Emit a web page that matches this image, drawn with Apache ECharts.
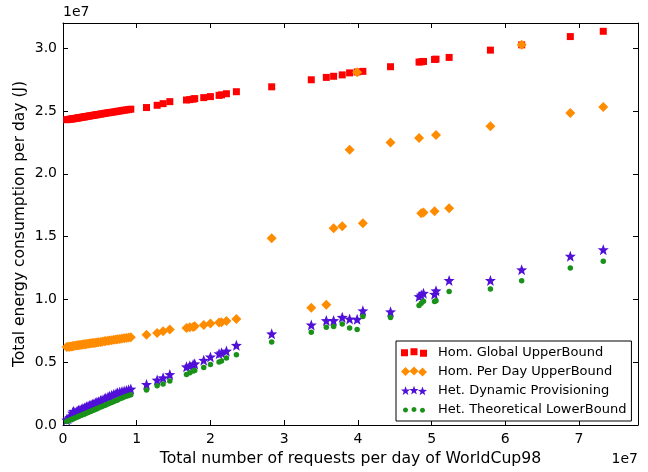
<!DOCTYPE html>
<html>
<head>
<meta charset="utf-8">
<script src="https://cdn.jsdelivr.net/npm/echarts@6/dist/echarts.min.js"></script>
<style>
html,body{margin:0;padding:0;background:#fff;}
#chart{width:648px;height:472px;}
</style>
</head>
<body>
<div id="chart"></div>
<script>
// All values in units of 1e7 (as shown by the axis offset labels "1e7")
var requests = [
  0.05,0.07,0.09,0.11,0.13,0.14,0.16,0.18,0.20,0.21,0.23,0.25,0.27,0.29,0.30,0.32,0.34,0.36,0.38,0.40,
  0.42,0.44,0.46,0.48,0.51,0.53,0.56,0.58,0.61,0.63,0.66,0.69,0.72,0.74,0.77,0.80,0.83,0.86,0.89,0.92,
  1.133,1.277,1.358,1.449,1.675,1.72,1.765,1.787,1.909,2.0,2.117,2.15,2.217,2.352,
  2.831,3.368,3.572,3.671,3.788,3.888,3.99,4.068,4.443,4.83,4.86,4.89,5.04,5.06,5.238,5.798,6.222,6.882,7.329
];
var homGlobalUpper = [
  2.430,2.432,2.433,2.436,2.437,2.438,2.440,2.442,2.444,2.445,2.447,2.449,2.451,2.453,2.454,2.456,2.458,2.460,2.462,2.464,
  2.466,2.468,2.470,2.472,2.475,2.477,2.480,2.482,2.485,2.487,2.489,2.492,2.495,2.497,2.500,2.503,2.506,2.508,2.511,2.514,
  2.527,2.545,2.558,2.574,2.587,2.590,2.594,2.598,2.606,2.614,2.624,2.628,2.637,2.653,
  2.692,2.748,2.767,2.776,2.787,2.803,2.810,2.815,2.852,2.889,2.891,2.894,2.910,2.912,2.926,2.984,3.026,3.092,3.134
];
var homPerDayUpper = [
  0.620,0.622,0.623,0.625,0.627,0.628,0.630,0.632,0.634,0.635,0.636,0.638,0.640,0.642,0.643,0.644,0.646,0.648,0.650,0.652,
  0.653,0.655,0.657,0.659,0.661,0.663,0.666,0.668,0.670,0.672,0.675,0.678,0.680,0.682,0.685,0.688,0.690,0.693,0.696,0.699,
  0.718,0.733,0.747,0.760,0.773,0.778,0.781,0.786,0.797,0.808,0.815,0.818,0.828,0.844,
  1.486,0.934,0.957,1.567,1.583,2.192,2.808,1.606,2.248,2.285,1.685,1.691,1.701,2.308,1.725,2.379,3.026,2.484,2.532
];
var hetDynamic = [
  0.040,0.050,0.062,0.072,0.095,0.110,0.100,0.105,0.110,0.118,0.120,0.126,0.131,0.135,0.138,0.145,0.150,0.156,0.160,0.166,
  0.170,0.176,0.182,0.186,0.196,0.200,0.208,0.214,0.222,0.228,0.236,0.244,0.250,0.256,0.262,0.266,0.270,0.274,0.280,0.286,
  0.323,0.358,0.376,0.402,0.463,0.471,0.481,0.487,0.516,0.542,0.568,0.575,0.589,0.634,
  0.726,0.797,0.831,0.831,0.857,0.844,0.841,0.910,0.902,1.023,1.035,1.049,1.041,1.068,1.151,1.151,1.236,1.344,1.396
];
var hetTheoreticalLower = [
  0.028,0.033,0.038,0.043,0.048,0.050,0.055,0.060,0.065,0.068,0.073,0.078,0.083,0.088,0.090,0.095,0.100,0.105,0.110,0.115,
  0.120,0.125,0.130,0.135,0.143,0.148,0.155,0.160,0.168,0.173,0.180,0.188,0.195,0.200,0.208,0.215,0.223,0.228,0.234,0.240,
  0.279,0.313,0.326,0.350,0.402,0.416,0.429,0.434,0.457,0.481,0.502,0.510,0.534,0.560,
  0.660,0.739,0.778,0.784,0.804,0.773,0.760,0.863,0.855,0.952,0.970,0.986,0.983,0.990,1.062,1.083,1.149,1.249,1.304
];
var seriesNames = ['Hom. Global UpperBound','Hom. Per Day UpperBound','Het. Dynamic Provisioning','Het. Theoretical LowerBound'];
var xTicks = [0,1,2,3,4,5,6,7];
var yTicks = [0.0,0.5,1.0,1.5,2.0,2.5,3.0];

function pairs(ys){ return requests.map(function(x,i){ return [x, ys[i]]; }); }

function starPts(cx, cy, R, r){
  var s = '';
  for (var k=0;k<10;k++){
    var a = (-90 + k*36) * Math.PI/180;
    var rad = (k%2===0) ? R : r;
    s += (k===0?'M':'L') + (cx + rad*Math.cos(a)).toFixed(3) + ',' + (cy + rad*Math.sin(a)).toFixed(3) + ' ';
  }
  return s + 'Z ';
}
function circlePts(cx, cy, r){
  var s = '';
  for (var k=0;k<16;k++){
    var a = k*Math.PI/8;
    s += (k===0?'M':'L') + (cx + r*Math.cos(a)).toFixed(3) + ',' + (cy + r*Math.sin(a)).toFixed(3) + ' ';
  }
  return s + 'Z ';
}
function diamondPts(cx, cy, w, h){
  return 'M'+cx+','+(cy-h/2)+' L'+(cx+w/2)+','+cy+' L'+cx+','+(cy+h/2)+' L'+(cx-w/2)+','+cy+' Z ';
}
var starSymbol = 'path://' + starPts(0,0,10,4.2);
var legSquares = 'path://M0,2.5h7v7h-7z M9.5,1.5h7v7h-7z M19,3h7v7h-7z';
var legDiamonds = 'path://' + diamondPts(4.5,5.5,9,9) + diamondPts(13,5,9,9) + diamondPts(21.5,5.8,9,9);
var legStars = 'path://' + starPts(4.5,5.5,4.8,2) + starPts(13,5,4.8,2) + starPts(21.5,5.8,4.8,2);
var legCircles = 'path://' + circlePts(4.5,5.5,2.5) + circlePts(13,5,2.5) + circlePts(21.5,5.8,2.5) + 'M0,0 L0.01,0 M26,10 L26.01,10';

var font = 'DejaVu Sans';
var chart = echarts.init(document.getElementById('chart'), null, {renderer:'canvas'});

function baseAxisLine(){ return {show:true, onZero:false, lineStyle:{color:'#000', width:1}}; }

var option = {
  animation:false,
  backgroundColor:'#fff',
  grid:{left:63, right:10, top:23, bottom:44, containLabel:false},
  xAxis:[{
    type:'value', min:0, max:7.8, interval:1, position:'bottom',
    name:'Total number of requests per day of WorldCup98', nameLocation:'middle', nameGap:26,
    nameMoveOverlap:false,
    nameTextStyle:{fontFamily:font, fontSize:15.7, color:'#000'},
    axisLine:baseAxisLine(),
    axisTick:{show:true, inside:true, length:5, lineStyle:{color:'#000'}},
    axisLabel:{show:true, margin:7, fontFamily:font, fontSize:14, color:'#000', showMaxLabel:false,
      formatter:function(v){ return xTicks.indexOf(Math.round(v))>=0 && Math.abs(v-Math.round(v))<1e-9 ? String(Math.round(v)) : ''; }},
    splitLine:{show:false}
  },{
    type:'value', min:0, max:7.8, interval:1, position:'top',
    axisLine:baseAxisLine(),
    axisTick:{show:true, inside:true, length:5, lineStyle:{color:'#000'}},
    axisLabel:{show:false}, splitLine:{show:false}
  }],
  yAxis:[{
    type:'value', min:0, max:3.2, interval:0.5, position:'left',
    name:'Total energy consumption per day (J)', nameLocation:'middle', nameGap:35,
    nameMoveOverlap:false,
    nameTextStyle:{fontFamily:font, fontSize:15.5, color:'#000'},
    axisLine:baseAxisLine(),
    axisTick:{show:true, inside:true, length:5, lineStyle:{color:'#000'}},
    axisLabel:{show:true, margin:6, fontFamily:font, fontSize:14, color:'#000', showMaxLabel:false,
      formatter:function(v){ var t=Math.round(v*10)/10; return yTicks.indexOf(t)>=0 ? t.toFixed(1) : ''; }},
    splitLine:{show:false}
  },{
    type:'value', min:0, max:3.2, interval:0.5, position:'right',
    axisLine:baseAxisLine(),
    axisTick:{show:true, inside:true, length:5, lineStyle:{color:'#000'}},
    axisLabel:{show:false}, splitLine:{show:false}
  }],
  legend:{
    show:true, orient:'vertical', left:396, top:341,
    padding:[4,5,4,5], itemGap:4, itemWidth:26, itemHeight:10,
    backgroundColor:'#fff', borderColor:'#000', borderWidth:1, borderRadius:0,
    formatter:function(n){ return '{p|}' + n; },
    textStyle:{fontFamily:font, fontSize:13, color:'#000', lineHeight:15,
      rich:{p:{width:6, fontSize:13, lineHeight:15}}},
    data:[
      {name:seriesNames[0], icon:legSquares},
      {name:seriesNames[1], icon:legDiamonds},
      {name:seriesNames[2], icon:legStars},
      {name:seriesNames[3], icon:legCircles}
    ]
  },
  graphic:[
    {type:'text', left:63, top:5, style:{text:'1e7', font:'14px "DejaVu Sans"', fill:'#000'}},
    {type:'text', right:10, top:452, style:{text:'1e7', font:'14px "DejaVu Sans"', fill:'#000'}}
  ],
  series:[
    {name:seriesNames[0], type:'scatter', symbol:'rect', symbolSize:7, data:pairs(homGlobalUpper),
      itemStyle:{color:'#ff0000', opacity:1}},
    {name:seriesNames[1], type:'scatter', symbol:'diamond', symbolSize:[10,10], data:pairs(homPerDayUpper),
      itemStyle:{color:'#ff8c00', opacity:1}},
    {name:seriesNames[2], type:'scatter', symbol:starSymbol, symbolSize:11, data:pairs(hetDynamic),
      itemStyle:{color:'#5010d8', opacity:1}},
    {name:seriesNames[3], type:'scatter', symbol:'circle', symbolSize:5.5, data:pairs(hetTheoreticalLower),
      itemStyle:{color:'#1a921a', opacity:1}}
  ]
};
chart.setOption(option);
</script>
</body>
</html>
